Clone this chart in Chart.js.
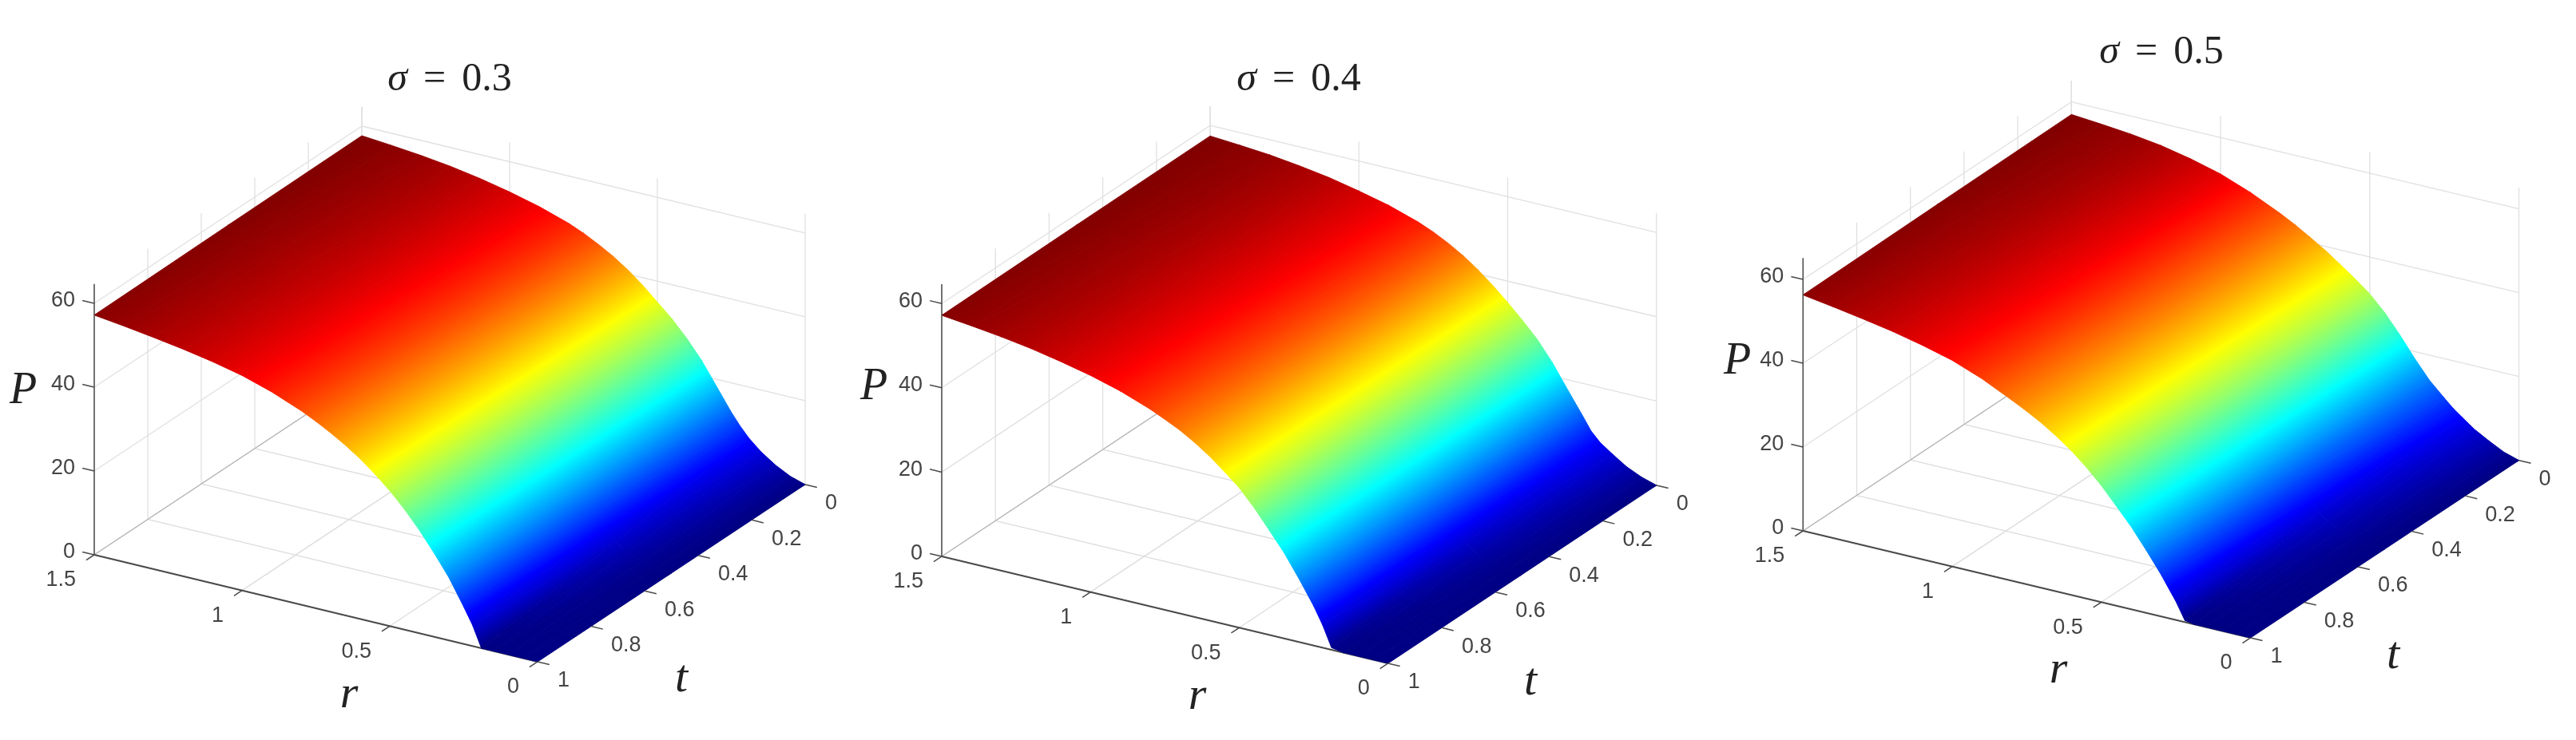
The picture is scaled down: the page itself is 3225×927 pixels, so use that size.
<!DOCTYPE html>
<html>
<head>
<meta charset="utf-8">
<title>P surfaces</title>
<script src="https://cdn.jsdelivr.net/npm/chart.js@4"></script>
<style>
  body { margin: 0; background: #fff; }
  canvas { position: absolute; top: 0; display: block; }
</style>
</head>
<body>
<canvas id="chart1"></canvas>
<canvas id="chart2"></canvas>
<canvas id="chart3"></canvas>
<script>
// data
const rValues = [0, 0.05, 0.1, 0.15, 0.19, 0.22, 0.25, 0.3, 0.35, 0.4, 0.45, 0.5, 0.55, 0.6, 0.65, 0.7, 0.75, 0.8, 0.9, 1, 1.1, 1.2, 1.3, 1.4, 1.5];
const tValues = [0, 0.5, 1];

const P_s03_t0  = [0, 1.1, 2.9, 5.3, 7.8, 10.2, 13, 18.3, 23.6, 28, 31.8, 35, 38.2, 41, 43.4, 45.4, 47.2, 48.7, 51, 52.8, 54.3, 55.5, 56.4, 57.1, 57.7];
const P_s03_t05 = [0, 0.3, 1, 2.4, 4.4, 7.2, 10.7, 16.4, 21.8, 26.2, 30.2, 33.6, 36.8, 39.6, 42, 44, 45.9, 47.5, 50, 52, 53.6, 54.8, 55.8, 56.7, 57.5];
const P_s03_t1  = [0, 0, 0, 0, 0, 5, 8.9, 15, 20, 24.6, 28.7, 32.3, 35.4, 38.2, 40.6, 42.7, 44.6, 46.3, 49.1, 51.3, 52.9, 54.2, 55.3, 56.3, 57.2];

const P_s04_t0  = [0, 1.1, 2.7, 5, 7, 9.2, 12.5, 17.8, 23.2, 27.8, 31.5, 34.9, 38.1, 41, 43.5, 45.6, 47.4, 48.9, 51.2, 52.9, 54.4, 55.5, 56.4, 57, 57.5];
const P_s04_t05 = [0, 0.3, 0.9, 2.2, 4.4, 7.4, 10.9, 16.5, 21.8, 26.3, 30.3, 34, 37.2, 40, 42.5, 44.6, 46.3, 47.8, 50.3, 52.2, 53.7, 55, 55.9, 56.7, 57.4];
const P_s04_t1  = [0, 0, 0, 0, 0.5, 5.4, 9.4, 15.1, 20.4, 24.9, 29.3, 33.2, 36.2, 39, 41.4, 43.5, 45.2, 46.8, 49.4, 51.4, 53, 54.4, 55.5, 56.4, 57.2];

const P_s05_t0  = [0, 1.1, 2.9, 4.9, 7, 8.6, 10.6, 14, 18.4, 23.2, 27.6, 31.2, 34, 36.6, 39.1, 41.3, 43.4, 45.3, 48.6, 51.3, 53.2, 54.7, 55.7, 56.4, 57];
const P_s05_t05 = [0, 0.3, 1, 2.1, 3.4, 5, 7.4, 11.8, 16.6, 21.4, 25.6, 29.5, 32.7, 35.5, 38.2, 40.4, 42.5, 44.3, 47.6, 50.2, 52.1, 53.7, 54.9, 55.8, 56.7];
const P_s05_t1  = [0, 0, 0, 0, 0, 0.4, 4.4, 10, 15, 19.7, 23.8, 27.8, 31.3, 34.4, 37, 39.3, 41.3, 43.1, 46.5, 49.2, 51.1, 52.7, 54, 55.2, 56.3];

const rTicks = [0, 0.5, 1, 1.5];
const rTickLabels = ['0', '0.5', '1', '1.5'];
const tTicks = [0, 0.2, 0.4, 0.6, 0.8, 1];
const tTickLabels = ['0', '0.2', '0.4', '0.6', '0.8', '1'];
const pTicks = [0, 20, 40, 60];
const pTickLabels = ['0', '20', '40', '60'];

// view of each panel: where the r=1.5,t=1,P=0 corner lands and how far one unit goes
const panels = [
  { id: 'chart1', left: 0, width: 1075, sigma: '0.3', rows: [P_s03_t0, P_s03_t05, P_s03_t1],
    colorMax: 57.7, pTop: 64.6,
    ox: 118, oy: 695, rdx: 370, rdy: 89.3, tdx: 335, tdy: -222, pz: 5.25,
    title: [563, 100], pLabel: [29, 490], rLabel: [437, 871], tLabel: [853, 851] },
  { id: 'chart2', left: 1075, width: 1065, sigma: '0.4', rows: [P_s04_t0, P_s04_t05, P_s04_t1],
    colorMax: 57.5, pTop: 64.6,
    ox: 1179, oy: 697, rdx: 372.5, rdy: 89.3, tdx: 336, tdy: -223, pz: 5.28,
    title: [1626, 100], pLabel: [1094, 485], rLabel: [1499, 873], tLabel: [1916, 855] },
  { id: 'chart3', left: 2140, width: 1085, sigma: '0.5', rows: [P_s05_t0, P_s05_t05, P_s05_t1],
    colorMax: 57, pTop: 65.1,
    ox: 2257.3, oy: 665, rdx: 373.5, rdy: 89.3, tdx: 336, tdy: -222.3, pz: 5.25,
    title: [2706, 66], pLabel: [2175, 453], rLabel: [2577, 840], tLabel: [2996, 822] }
];

function project(v, r, t, p) {
  return {
    x: v.ox + (1.5 - r) * v.rdx + (1 - t) * v.tdx,
    y: v.oy + (1.5 - r) * v.rdy + (1 - t) * v.tdy - p * v.pz
  };
}

// jet colormap stops
const jet = [
  [0, '#000083'], [0.125, '#0000ff'], [0.375, '#00ffff'],
  [0.625, '#ffff00'], [0.875, '#ff0000'], [1, '#800000']
];

// P is linear over a triangle, so a canvas gradient gives the exact colour
function triangleGradient(ctx, tri, colorMax) {
  const chart = ctx.chart;
  if (!chart.chartArea) return '#800000';
  const xs = chart.scales.x, ys = chart.scales.y;
  const px = tri.map(d => xs.getPixelForValue(d.x));
  const py = tri.map(d => ys.getPixelForValue(d.y));
  const x1 = px[1] - px[0], y1 = py[1] - py[0], x2 = px[2] - px[0], y2 = py[2] - py[0];
  const dp1 = tri[1].p - tri[0].p, dp2 = tri[2].p - tri[0].p;
  const det = x1 * y2 - x2 * y1;
  let gx = (dp1 * y2 - dp2 * y1) / det;
  let gy = (x1 * dp2 - x2 * dp1) / det;
  const len2 = gx * gx + gy * gy;
  if (!isFinite(len2) || len2 < 1e-9) {
    gx = 0; gy = 0.001;
  }
  const l = gx * gx + gy * gy;
  const a = (0 - tri[0].p) / l, b = (colorMax - tri[0].p) / l;
  const g = chart.ctx.createLinearGradient(px[0] + gx * a, py[0] + gy * a, px[0] + gx * b, py[0] + gy * b);
  jet.forEach(s => g.addColorStop(s[0], s[1]));
  return g;
}

function line(points, color, width, order) {
  return { data: points, showLine: true, pointRadius: 0, borderColor: color, borderWidth: width, order: order, fill: false };
}

function buildDatasets(v) {
  const sets = [];
  const gridColor = '#e0e0e0';
  const pTop = v.pTop;
  const add = (a, b, color) => sets.push(line([project(v, a[0], a[1], a[2]), project(v, b[0], b[1], b[2])], color || gridColor, 1.3, 20));

  // floor
  rTicks.forEach(r => add([r, 0, 0], [r, 1, 0], r === 1.5 ? '#b4b4b4' : '#dcdcdc'));
  tTicks.forEach(t => add([0, t, 0], [1.5, t, 0], '#dcdcdc'));
  // back walls
  tTicks.forEach(t => add([1.5, t, 0], [1.5, t, pTop]));
  rTicks.forEach(r => add([r, 0, 0], [r, 0, pTop]));
  pTicks.forEach(p => {
    add([1.5, 0, p], [1.5, 1, p]);
    add([0, 0, p], [1.5, 0, p]);
  });

  // surface, two triangles per cell
  for (let j = 0; j < tValues.length - 1; j++) {
    for (let i = 0; i < rValues.length - 1; i++) {
      const corner = (ii, jj) => {
        const p = v.rows[jj][ii];
        return Object.assign(project(v, rValues[ii], tValues[jj], p), { p: p });
      };
      const a = corner(i, j), b = corner(i + 1, j), c = corner(i + 1, j + 1), d = corner(i, j + 1);
      [[a, b, c], [a, c, d]].forEach(tri => {
        const paint = ctx => triangleGradient(ctx, tri, v.colorMax);
        sets.push({
          data: [tri[0], tri[1], tri[2], tri[0]],
          showLine: true, pointRadius: 0, fill: 'shape', order: 5,
          backgroundColor: paint, borderColor: paint, borderWidth: 1
        });
      });
    }
  }

  // axes and tick marks
  const axisColor = '#4a4a4a';
  const dark = (a, b, w) => sets.push(line([project(v, a[0], a[1], a[2]), project(v, b[0], b[1], b[2])], axisColor, w, 1));
  dark([1.5, 1, 0], [1.5, 1, pTop], 1.5);
  sets.push(line([project(v, 1.5, 1, 0), project(v, 0, 1, 0)], axisColor, 2, 8));
  rTicks.forEach(r => dark([r, 1, 0], [r, 1.03, 0], 1.5));
  tTicks.forEach(t => dark([0, t, 0], [-0.04, t, 0], 1.5));
  pTicks.forEach(p => dark([1.5, 1, p], [1.54, 1, p], 1.5));
  return sets;
}

// tick labels and the math text
function textPlugin(v) {
  return {
    id: 'axisText',
    afterDraw(chart) {
      const c = chart.ctx, xs = chart.scales.x, ys = chart.scales.y;
      const put = (s, x, y, align, font, color) => {
        c.font = font;
        c.fillStyle = color;
        c.textAlign = align;
        c.textBaseline = 'middle';
        c.fillText(s, xs.getPixelForValue(x), ys.getPixelForValue(y));
      };
      c.save();
      const tickFont = '27px "Liberation Sans"';
      const tickColor = '#444444';
      pTicks.forEach((p, i) => {
        const q = project(v, 1.5, 1, p);
        put(pTickLabels[i], q.x - 24, q.y - 3, 'right', tickFont, tickColor);
      });
      rTicks.forEach((r, i) => {
        const q = project(v, r, 1, 0);
        put(rTickLabels[i], q.x - 23, q.y + 32, 'right', tickFont, tickColor);
      });
      tTicks.forEach((t, i) => {
        const q = project(v, 0, t, 0);
        put(tTickLabels[i], q.x + 25, q.y + 24, 'left', tickFont, tickColor);
      });

      const mathItalic = 'italic 58px "Liberation Serif"';
      put('P', v.pLabel[0], v.pLabel[1], 'center', 'italic 56px "Liberation Serif"', '#222222');
      put('r', v.rLabel[0], v.rLabel[1], 'center', mathItalic, '#222222');
      put('t', v.tLabel[0], v.tLabel[1], 'center', mathItalic, '#222222');

      // title: sigma in italic, the rest upright, with wide gaps round the equals sign
      const italic = 'italic 50px "Liberation Serif"', upright = '50px "Liberation Serif"';
      const gap = 20;
      c.font = italic;
      const w1 = c.measureText('\u03c3').width;
      c.font = upright;
      const w2 = c.measureText('=').width, w3 = c.measureText(v.sigma).width;
      let x = v.title[0] - (w1 + w2 + w3 + 2 * gap) / 2;
      put('\u03c3', x, v.title[1], 'left', italic, '#222222');
      x += w1 + gap;
      put('=', x, v.title[1], 'left', upright, '#222222');
      x += w2 + gap;
      put(v.sigma, x, v.title[1], 'left', upright, '#222222');
      c.restore();
    }
  };
}

panels.forEach(v => {
  const canvas = document.getElementById(v.id);
  canvas.width = v.width;
  canvas.height = 927;
  canvas.style.left = v.left + 'px';
  new Chart(canvas, {
    type: 'scatter',
    data: { datasets: buildDatasets(v) },
    options: {
      responsive: false,
      animation: false,
      layout: { padding: 0 },
      plugins: { legend: { display: false }, tooltip: { enabled: false } },
      scales: {
        x: { type: 'linear', display: false, min: v.left, max: v.left + v.width },
        y: { type: 'linear', display: false, reverse: true, min: 0, max: 927 }
      }
    },
    plugins: [textPlugin(v)]
  });
});
</script>
</body>
</html>
